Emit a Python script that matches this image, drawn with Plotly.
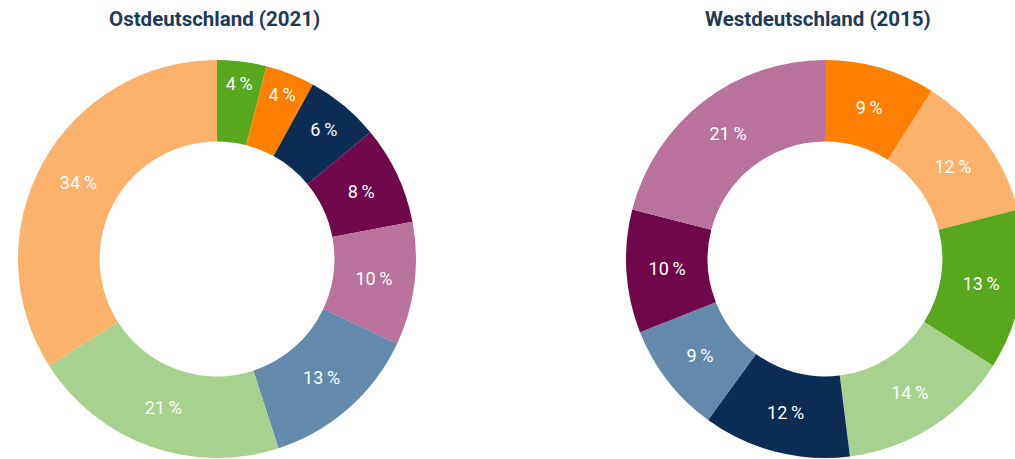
import plotly.graph_objects as go

# Data
east_title = "Ostdeutschland (2021)"
east_values = [4, 4, 6, 8, 10, 13, 21, 34]
east_colors = ["#58a81f", "#ff7f00", "#0d2c54", "#700748", "#b8729b", "#6489aa", "#a9d18e", "#fdb26b"]

west_title = "Westdeutschland (2015)"
west_values = [9, 12, 13, 14, 12, 9, 10, 21]
west_colors = ["#ff7f00", "#fdb26b", "#58a81f", "#a9d18e", "#0d2c54", "#6489aa", "#700748", "#b8729b"]

W, H = 1030, 459

def px_x(a, b):
    return [a / W, b / W]

def px_y(top, bottom):
    return [1 - bottom / H, 1 - top / H]

fig = go.Figure()
for vals, cols, dx in [(east_values, east_colors, px_x(18, 416)),
                       (west_values, west_colors, px_x(626, 1024))]:
    fig.add_trace(go.Pie(
        values=vals,
        marker=dict(colors=cols, line=dict(width=0)),
        hole=0.59,
        sort=False,
        direction="clockwise",
        rotation=0,
        texttemplate="%{value}\u2009%",
        textposition="inside",
        insidetextorientation="horizontal",
        textfont=dict(family="Roboto", size=18, color="white"),
        domain=dict(x=dx, y=px_y(60, 458)),
        hoverinfo="skip",
        showlegend=False,
    ))

for title, cx in [(east_title, 214), (west_title, 818)]:
    fig.add_annotation(
        text=f"<b>{title}</b>", x=cx / W, y=1 - 19 / H, xref="paper", yref="paper",
        showarrow=False, xanchor="center", yanchor="middle",
        font=dict(family="Roboto", size=20.5, color="#1f3a56"),
    )

fig.update_layout(
    width=W, height=H,
    margin=dict(l=0, r=0, t=0, b=0),
    paper_bgcolor="white",
    plot_bgcolor="white",
)

fig.write_html(
    "out.html",
    config={"displayModeBar": False},
    post_script="document.body.style.margin='0';document.body.style.overflow='hidden';",
)
